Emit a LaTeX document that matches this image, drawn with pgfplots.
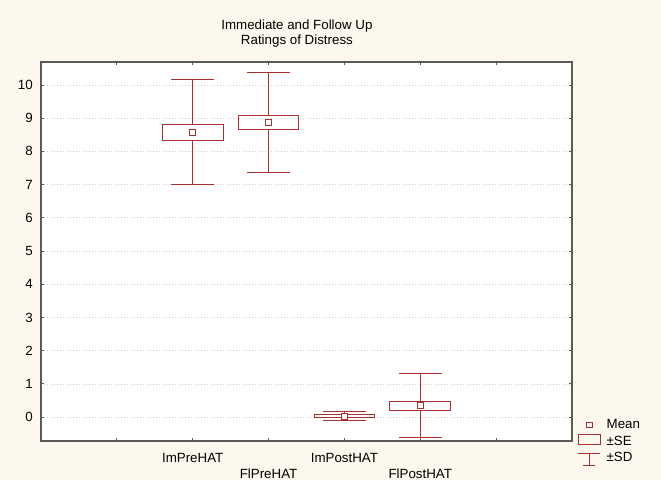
\documentclass[border=0pt]{standalone}
\usepackage{fontspec}
\setmainfont{Liberation Sans}
\usepackage{pgfplots}
\pgfplotsset{compat=1.18}
\usepgfplotslibrary{statistics}
\definecolor{bg}{RGB}{253,248,238}
\definecolor{pc}{RGB}{168,48,48}
\definecolor{ax}{RGB}{90,90,90}
\begin{document}
\begin{tikzpicture}
\fill[bg] (-30.75pt,-29.25pt) rectangle (465pt,330.75pt);
\begin{axis}[
  at={(0,0)}, anchor=south west,
  scale only axis, width=398.25pt, height=284.25pt,
  xmin=-1, xmax=6, ymin=-0.72, ymax=10.69,
  axis background/.style={fill=white},
  axis line style={ax, line width=0.8pt},
  xtick={0,...,5},
  xticklabels={,{\strut ImPreHAT},{\strut\\FlPreHAT},{\strut ImPostHAT},{\strut\\FlPostHAT},},
  ytick={0,...,10},
  tick align=inside, major tick length=2.5pt,
  tick style={ax, line width=0.6pt},
  xticklabel style={align=center, yshift=-4.5pt, font=\fontsize{10}{11.6}\selectfont},
  yticklabel style={xshift=-2.7pt},
  ymajorgrids, major grid style={gray!40, dotted, line width=0.5pt},
  /pgf/number format/assume math mode=true,
  ticklabel style={font=\fontsize{10}{11.6}\selectfont},
  title={Immediate and Follow Up\\Ratings of Distress},
  every axis title/.style={at={(0.482,1)}, anchor=south, yshift=7.5pt, align=center, font=\fontsize{10}{11.25}\selectfont},
  legend style={at={(1,0.065)}, anchor=north west, xshift=4pt, draw=none, fill=none, inner sep=0pt, row sep=0pt, column sep=2.5pt, font=\fontsize{10}{12}\selectfont},
  legend cell align=left,
  boxplot/draw direction=y,
  boxplot/draw/median/.code={},
]
\addplot[pc, line width=0.8pt, forget plot, boxplot prepared={draw position=1, lower whisker=6.99, lower quartile=8.33, median=8.58, upper quartile=8.80, upper whisker=10.15, box extend=0.8, whisker extend=0.56}] coordinates {};
\addplot[pc, line width=0.8pt, forget plot, boxplot prepared={draw position=2, lower whisker=7.35, lower quartile=8.66, median=8.88, upper quartile=9.08, upper whisker=10.37, box extend=0.8, whisker extend=0.56}] coordinates {};
\addplot[pc, line width=0.8pt, forget plot, boxplot prepared={draw position=3, lower whisker=-0.10, lower quartile=-0.01, median=0.03, upper quartile=0.07, upper whisker=0.16, box extend=0.8, whisker extend=0.56}] coordinates {};
\addplot[pc, line width=0.8pt, forget plot, boxplot prepared={draw position=4, lower whisker=-0.62, lower quartile=0.21, median=0.34, upper quartile=0.47, upper whisker=1.30, box extend=0.8, whisker extend=0.56}] coordinates {};
\addplot[pc, only marks, mark=square*, mark size=2.25pt, mark options={draw=pc, fill=white, line width=0.8pt}, forget plot] coordinates {(1,8.58) (2,8.88) (3,0.03) (4,0.34)};
\addlegendimage{only marks, mark=square, mark size=2pt, pc, mark options={draw=pc, line width=0.8pt}}
\addlegendentry{Mean}
\addlegendimage{legend image code/.code={\draw[pc, line width=0.8pt] (0pt,-2.25pt) rectangle (16.5pt,5.25pt);}}
\addlegendentry{±SE}
\addlegendimage{legend image code/.code={\draw[pc, line width=0.8pt] (0pt,3.75pt) -- (16.5pt,3.75pt) (8.25pt,3.75pt) -- (8.25pt,-5.5pt) (3.75pt,-5.5pt) -- (12.75pt,-5.5pt);}}
\addlegendentry{±SD}
\end{axis}
\pgfresetboundingbox
\useasboundingbox (-30.75pt,-29.25pt) rectangle (465pt,330.75pt);
\end{tikzpicture}
\end{document}
